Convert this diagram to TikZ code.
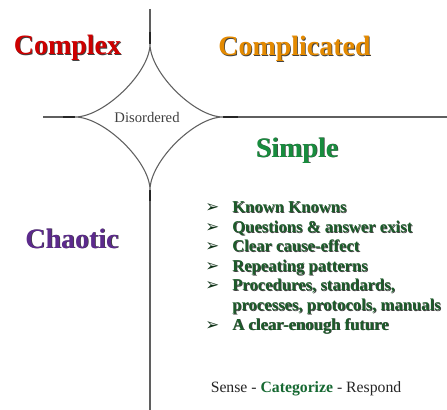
\documentclass[tikz,border=0pt]{standalone}
\usepackage{fontspec}
\setmainfont{Liberation Serif}
\newfontfamily\symfont{DejaVu Sans}
\definecolor{cxred}{RGB}{205,0,0}
\definecolor{cporange}{RGB}{228,138,0}
\definecolor{smgreen}{RGB}{24,140,62}
\definecolor{chpurple}{RGB}{92,42,140}
\definecolor{bulgreen}{RGB}{28,92,42}
\definecolor{catgreen}{RGB}{22,105,50}
\definecolor{linegray}{RGB}{95,95,95}
\newcommand\shad[2]{\makebox[0pt][l]{\raisebox{-0.6pt}{\hspace{0.6pt}\textcolor{black!75}{#2}}}\textcolor{#1}{#2}}
\begin{document}
\begin{tikzpicture}[x=0.75pt,y=-0.75pt,
  title/.style={font=\fontsize{21}{24}\selectfont\bfseries, anchor=base, inner sep=0pt},
  bul/.style={font=\fontsize{12.5}{14}\selectfont\bfseries, anchor=base west, inner sep=0pt},
  arr/.style={font=\symfont\fontsize{12.5}{14}\selectfont, anchor=base west, inner sep=0pt, text=bulgreen!55!black},
  axis/.style={draw=linegray, line width=0.8pt},
  tip/.style={draw=black!85, line width=1.4pt},
  star/.style={draw=linegray, line width=0.8pt}]
\fill[white] (0,0) rectangle (447,410);
\useasboundingbox (0,0) rectangle (447,410);
% coordinates
\coordinate (vtop) at (150,9);
\coordinate (vbot) at (150,410);
\coordinate (hleft) at (43,117);
\coordinate (hright) at (447,117);
\coordinate (T) at (150,44);
\coordinate (L) at (75,117);
\coordinate (R) at (223,117);
\coordinate (B) at (150,190);
\coordinate (Tt) at (150,32);
\coordinate (Lt) at (63,117);
\coordinate (Rt) at (238,117);
\coordinate (Bt) at (150,201);
% axes
\draw[axis] (vtop) -- (T);
\draw[axis] (B) -- (vbot);
\draw[axis] (hleft) -- (L);
\draw[axis] (R) -- (hright);
\draw[tip] (Tt) -- (T);
\draw[tip] (B) -- (Bt);
\draw[tip] (Lt) -- (L);
\draw[tip] (R) -- (Rt);
% star
\draw[star] (T) .. controls (150,72.5) and (104,117) .. (L)
            .. controls (104,117) and (150,161.5) .. (B)
            .. controls (150,161.5) and (194.5,117) .. (R)
            .. controls (194.5,117) and (150,72.5) .. (T);
\node[font=\fontsize{11}{13}\selectfont, text=black!75, anchor=base, inner sep=0pt] (dis) at (147,123) {Disordered};
% titles
\node[title] (cx) at (67.5,55) {\shad{cxred}{Complex}};
\node[title] (cp) at (294.5,56) {\shad{cporange}{Complicated}};
\node[title] (sm) at (297,157) {\shad{smgreen}{Simple}};
\node[title] (ch) at (72,248) {\shad{chpurple}{Chaotic}};
% bullets
\node[arr] (a1) at (205,213) {➢};
\node[bul] (b1) at (232,213) {\shad{bulgreen}{Known Knowns}};
\node[arr] (a2) at (205,232.5) {➢};
\node[bul] (b2) at (232,232.5) {\shad{bulgreen}{Questions \& answer exist}};
\node[arr] (a3) at (205,252) {➢};
\node[bul] (b3) at (232,252) {\shad{bulgreen}{Clear cause-effect}};
\node[arr] (a4) at (205,271.5) {➢};
\node[bul] (b4) at (232,271.5) {\shad{bulgreen}{Repeating patterns}};
\node[arr] (a5) at (205,291) {➢};
\node[bul] (b5) at (232,291) {\shad{bulgreen}{Procedures, standards,}};
\node[bul] (b6) at (232,310.5) {\shad{bulgreen}{processes, protocols, manuals}};
\node[arr] (a7) at (205,330) {➢};
\node[bul] (b7) at (232,330) {\shad{bulgreen}{A clear-enough future}};
% footer
\node[font=\fontsize{11.8}{14}\selectfont, text=black!85, anchor=base, inner sep=0pt] (scr) at (306,392) {Sense - \textbf{\textcolor{catgreen}{Categorize}} - Respond};
\end{tikzpicture}
\end{document}
